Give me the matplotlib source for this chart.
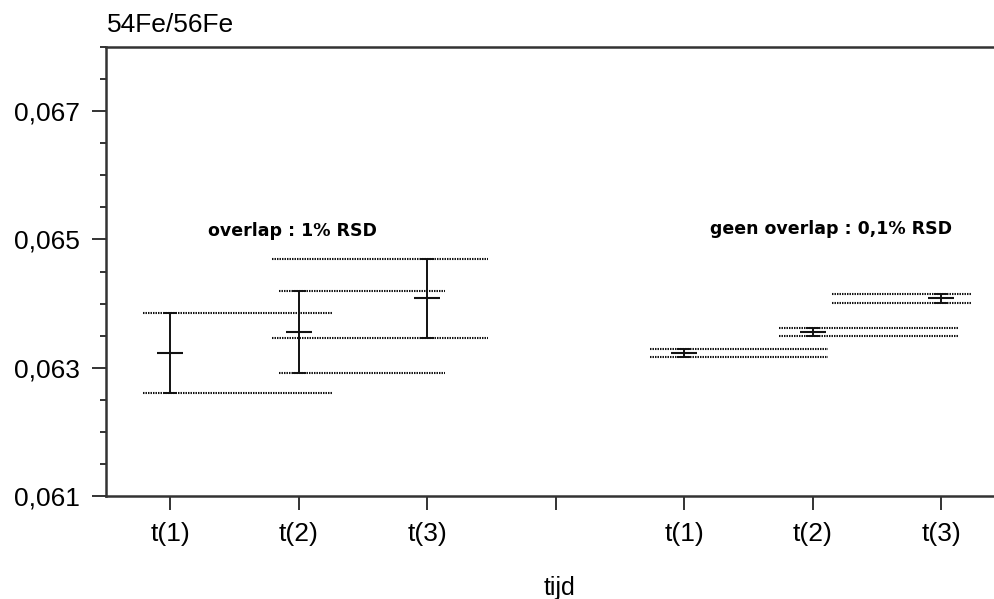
import matplotlib as mp
from matplotlib import pyplot as plt
from matplotlib import font_manager

# 54Fe/56Fe ratio at three moments, two precision scenarios

tick_positions = [1, 2, 3, 4, 5, 6, 7]
tick_labels = ["t(1)", "t(2)", "t(3)", "", "t(1)", "t(2)", "t(3)"]

# scenario 1: 1% RSD
x_left = [1, 2, 3]
mean_left = [0.06323, 0.06355, 0.06408]
err_left = [0.000625, 0.00064, 0.00062]
span_left_start = [0.79, 1.85, 1.79]
span_left_end = [2.26, 3.14, 3.47]

# scenario 2: 0,1% RSD
x_right = [5, 6, 7]
mean_right = [0.06323, 0.06356, 0.06408]
err_right = [0.000063, 0.000064, 0.000064]
span_right_start = [4.73, 5.74, 6.15]
span_right_end = [6.12, 7.14, 7.23]

label_left = "overlap : 1% RSD"
label_right = "geen overlap : 0,1% RSD"

installed = {f.name for f in font_manager.fontManager.ttflist}
plt.rcParams["font.family"] = ["Liberation Sans", "DejaVu Sans"]
narrow = "Liberation Sans Narrow" if "Liberation Sans Narrow" in installed else "Liberation Sans"

DPI = 100
figure = plt.figure(figsize=(9.95, 5.99), dpi=DPI)
axis = figure.add_axes([106 / 995, 103 / 599, 889 / 995, 449 / 599])

spine_color = "#333333"
ink = "#111111"


def draw_group(xs, means, errs, starts, ends):
    for x, m, e, x0, x1 in zip(xs, means, errs, starts, ends):
        # dotted reference lines at mean +/- error
        for y in (m - e, m + e):
            axis.plot([x0, x1], [y, y], color="#111111", lw=1.5,
                      linestyle=(0, (0.7, 0.5)))
        axis.errorbar([x], [m], yerr=[e], fmt="none", ecolor=ink,
                      elinewidth=1.4, capsize=5, capthick=1.4)
        axis.plot([x], [m], marker="_", markersize=19, mew=1.5, color=ink)


draw_group(x_left, mean_left, err_left, span_left_start, span_left_end)
draw_group(x_right, mean_right, err_right, span_right_start, span_right_end)

axis.set_xlim(0.5, 0.5 + 889 / 128.5)
axis.set_ylim(0.061, 0.068)

axis.set_xticks(tick_positions)
axis.set_xticklabels(tick_labels)
axis.set_yticks([0.061, 0.063, 0.065, 0.067])
axis.set_yticklabels(["0,061", "0,063", "0,065", "0,067"])
axis.set_yticks([0.0615, 0.062, 0.0625, 0.0635, 0.064, 0.0645, 0.0655,
                 0.066, 0.0665, 0.0675, 0.068], minor=True)

axis.tick_params(axis="both", which="major", labelsize=19, length=10,
                 width=1.2, color=ink, labelcolor="black", pad=9)
axis.tick_params(axis="y", which="minor", length=4.5, width=1.2, color=ink)
axis.tick_params(axis="y", which="major", pad=9)

for side in ("left", "bottom", "top"):
    axis.spines[side].set_color(spine_color)
    axis.spines[side].set_linewidth(1.8)
axis.spines["right"].set_visible(False)

axis.text(1.296, 0.065125, label_left, fontsize=12.5, fontweight="bold",
          family="DejaVu Sans", va="center", ha="left")
axis.text(5.20, 0.06516, label_right, fontsize=12.5, fontweight="bold",
          family="DejaVu Sans", va="center", ha="left")

figure.text(107 / 995, 1 - 25 / 599, "54Fe/56Fe", fontsize=19,
            va="center", ha="left")
figure.text(560 / 995, 1 - 588 / 599, "tijd", fontsize=18, family=narrow,
            va="center", ha="center")

figure.savefig("out.png", dpi=DPI)
